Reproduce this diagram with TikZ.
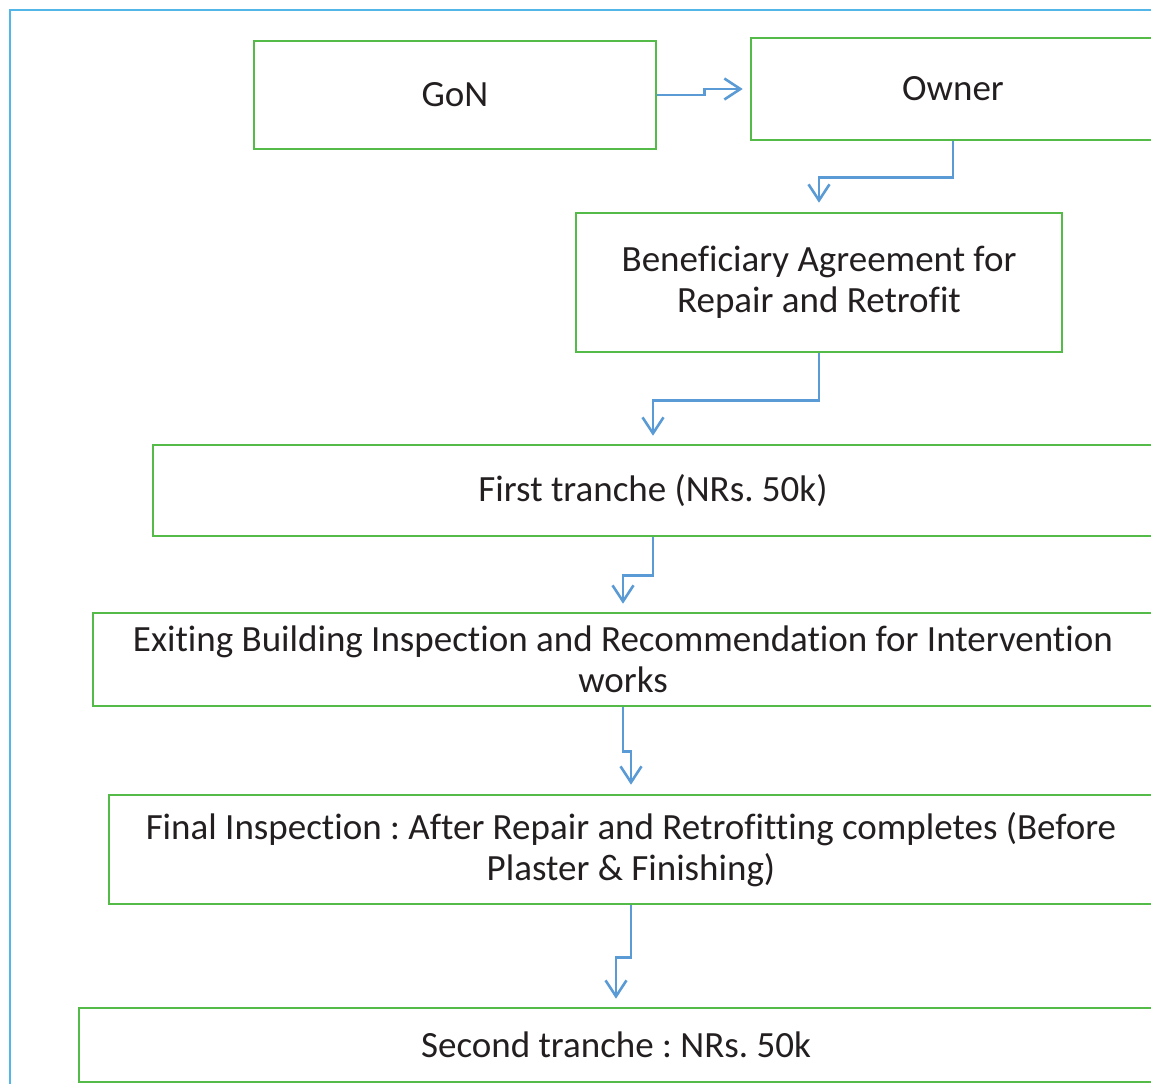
\documentclass[tikz,border=0pt]{standalone}
\usepackage{fontspec}
\setmainfont[Ligatures={NoCommon}]{Carlito}
\usetikzlibrary{arrows.meta}
\definecolor{boxgreen}{RGB}{84,186,72}
\definecolor{arrblue}{RGB}{91,155,213}
\definecolor{frameblue}{RGB}{82,183,232}
\definecolor{txt}{RGB}{35,31,32}
\tikzset{
  box/.style={draw=boxgreen, line width=2.6pt, rectangle, inner sep=0pt, align=center,
    text=txt, font=\fontsize{37}{41}\selectfont\frenchspacing},
  arr/.style={draw=arrblue, line width=2.6pt, -{Straight Barb[length=16pt,width=21pt]}}
}
\begin{document}
\begin{tikzpicture}[x=1pt,y=-1pt]
\useasboundingbox (0,0) rectangle (1151,1084);
\draw[frameblue, line width=2pt] (9.5,1100) -- (9.5,10) -- (1170,10);
\node[box, minimum width=402, minimum height=108] (gon) at (455,95) {GoN};
\node[box, minimum width=404, minimum height=102] (owner) at (953,89) {Owner};
\node[box, minimum width=486, minimum height=139] (ben) at (819,282.5) {Beneficiary Agreement for\\Repair and Retrofit};
\node[box, minimum width=1000, minimum height=91] (first) at (653,490.5) {First tranche (NRs. 50k)};
\node[box, minimum width=1060, minimum height=93] (exit) at (623,659.5) {Exiting Building Inspection and Recommendation for Intervention\\works};
\node[box, minimum width=1044, minimum height=109] (final) at (631,849.5) {Final Inspection : After Repair and Retrofitting completes (Before\\Plaster \& Finishing)};
\node[box, minimum width=1074, minimum height=74] (second) at (616,1045) {Second tranche : NRs. 50k};
\draw[arr, shorten >=7pt] (gon.east) -- ++(47,0) |- (owner.west);
\draw[arr, shorten >=9pt] (owner.south) -- ++(0,36) -| (ben.north);
\draw[arr, shorten >=8pt] (ben.south) -- ++(0,47) -| (first.north);
\draw[arr, shorten >=8pt] (first.south) -- ++(0,38) -| (exit.north);
\draw[arr, shorten >=9pt] (exit.south) -- ++(0,44) -| (final.north);
\draw[arr, shorten >=8pt] (final.south) -- ++(0,52) -| (second.north);
\end{tikzpicture}
\end{document}
